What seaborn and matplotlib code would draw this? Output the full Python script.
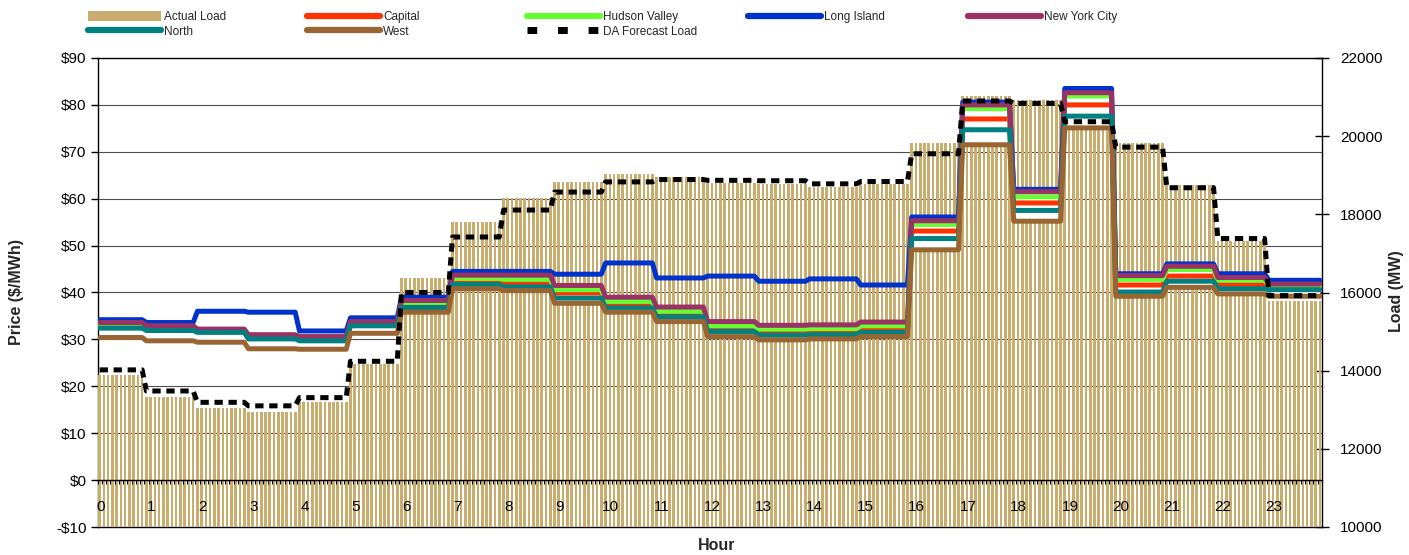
import numpy as np
import pandas as pd
import matplotlib
matplotlib.use("Agg")
import matplotlib.pyplot as plt
from matplotlib.lines import Line2D
from matplotlib.patches import Patch
from matplotlib.transforms import ScaledTranslation
import seaborn as sns

# ---------------------------------------------------------------- data
hours = list(range(24))
hour_labels = [str(h) for h in hours]

# hourly load (MW)
actual_load = [13890, 13320, 13040, 12940, 13190, 14170, 16370, 17810,
               18420, 18830, 19030, 18950, 18800, 18780, 18700, 18780,
               19830, 21030, 20920, 20250, 19830, 18750, 17330, 15790]
da_forecast_load = [14020, 13480, 13190, 13100, 13310, 14240, 16000, 17420,
                    18110, 18570, 18830, 18890, 18870, 18860, 18780, 18840,
                    19550, 20900, 20840, 20370, 19720, 18680, 17380, 15920]

# hourly zonal prices ($/MWh)
capital = [32.6, 32.1, 31.7, 30.3, 29.9, 33.1, 37.0, 42.5, 42.0, 39.9, 37.5, 35.5,
           32.4, 31.5, 31.7, 32.2, 53.1, 77.0, 59.1, 80.0, 41.6, 43.5, 41.7, 41.2]
hudson_valley = [33.4, 32.8, 32.1, 30.9, 30.5, 33.7, 37.9, 43.0, 42.8, 40.6, 38.1, 36.0,
                 32.9, 32.2, 32.3, 32.9, 54.5, 79.2, 60.4, 81.9, 42.8, 44.9, 42.6, 41.5]
long_island = [34.2, 33.6, 36.0, 35.8, 31.8, 34.6, 39.0, 44.5, 44.5, 43.9, 46.3, 43.1,
               43.5, 42.4, 42.9, 41.6, 56.1, 80.6, 62.0, 83.5, 44.0, 46.1, 44.0, 42.6]
new_york_city = [33.6, 32.9, 32.2, 31.0, 30.6, 33.8, 38.3, 43.7, 43.7, 41.5, 39.0, 36.9,
                 33.8, 33.0, 33.1, 33.7, 55.3, 80.0, 61.5, 82.6, 43.6, 45.6, 43.2, 41.8]
north = [32.4, 31.9, 31.5, 30.1, 29.7, 32.9, 36.8, 41.7, 41.2, 38.8, 36.7, 34.8,
         31.7, 30.9, 31.0, 31.5, 51.5, 74.7, 57.5, 77.6, 40.1, 42.4, 40.8, 40.6]
west = [30.4, 29.7, 29.4, 28.0, 27.9, 31.3, 35.8, 40.8, 40.4, 37.7, 35.8, 33.8,
        30.6, 29.9, 30.1, 30.6, 49.1, 71.5, 55.2, 75.1, 39.2, 41.1, 39.7, 39.2]

zones = ["Capital", "Hudson Valley", "Long Island", "New York City", "North", "West"]
zone_prices = [capital, hudson_valley, long_island, new_york_city, north, west]
zone_colors = ["#FF3300", "#66FF33", "#0033CC", "#993366", "#008080", "#996633"]
load_color = "#C9AD6F"

# ------------------------------------------------- 5-minute intervals
# interval i ends at (i+1)*5 minutes; it carries the value of that hour
n_int = 288
t = (np.arange(n_int) + 0.5) / 12.0
hour_idx = np.minimum((np.arange(n_int) + 1) // 12, 23)

load_int = np.asarray(actual_load)[hour_idx]
da_int = np.asarray(da_forecast_load)[hour_idx]
price_df = pd.concat(
    [pd.DataFrame({"hour": t, "price": np.asarray(p)[hour_idx], "zone": z})
     for z, p in zip(zones, zone_prices)],
    ignore_index=True,
)

# ---------------------------------------------------------------- style
sns.set_theme(style="white")
plt.rcParams["font.family"] = ["Liberation Sans", "DejaVu Sans"]

W, H = 1409, 555
fig = plt.figure(figsize=(W / 100, H / 100), dpi=100)
rect = [97.5 / W, 1 - 527 / H, 1224.5 / W, 469 / H]

ax_bg = fig.add_axes(rect)      # price frame + grid
ax_load = fig.add_axes(rect)    # load bars, right scale
ax_lines = fig.add_axes(rect)   # zonal prices, hour axis at $0
ax_da = fig.add_axes(rect)      # DA forecast load
for a in (ax_load, ax_lines, ax_da):
    a.patch.set_visible(False)
for a in (ax_bg, ax_load, ax_lines, ax_da):
    a.set_xlim(0, 24)

# background: price scale, grid, frame
ax_bg.set_ylim(-10, 90)
price_ticks = list(range(-10, 91, 10))
ax_bg.set_yticks(price_ticks)
ax_bg.set_yticklabels([f"-${abs(v)}" if v < 0 else f"${v}" for v in price_ticks])
ax_bg.set_xticks([])
ax_bg.grid(axis="y", color="#4d4d4d", linewidth=0.8)
ax_bg.grid(axis="x", visible=False)
for s in ax_bg.spines.values():
    s.set_visible(True)
    s.set_color("black")
    s.set_linewidth(1.0)
ax_bg.tick_params(axis="y", direction="out", length=5, width=1, color="black",
                  labelsize=11, pad=3, left=True, labelcolor="black")

# load bars
ax_load.bar(t, load_int, width=0.62 / 12, color=load_color, linewidth=0)
ax_load.set_ylim(10000, 22000)
ax_load.yaxis.tick_right()
ax_load.set_yticks(range(10000, 22001, 2000))
ax_load.set_xticks([])
ax_load.tick_params(axis="y", direction="inout", length=10, width=1, color="black",
                    labelsize=11, pad=8, right=True, labelcolor="black")
for s in ax_load.spines.values():
    s.set_visible(False)
ax_load.grid(False)

# zonal price lines
ax_lines.set_ylim(-10, 90)
nyc_int = np.asarray(new_york_city)[hour_idx]
west_int = np.asarray(west)[hour_idx]
ax_lines.fill_between(t, west_int, nyc_int, color="white", linewidth=0, zorder=1)
sns.lineplot(data=price_df, x="hour", y="price", hue="zone", hue_order=zones,
             palette=zone_colors, linewidth=3.6, estimator=None, errorbar=None,
             legend=False, ax=ax_lines)
for ln in ax_lines.lines:
    ln.set_solid_joinstyle("round")
ax_lines.set_xlabel("")
ax_lines.set_ylabel("")
ax_lines.set_yticks([])
for name, s in ax_lines.spines.items():
    s.set_visible(name == "bottom")
ax_lines.spines["bottom"].set_position(("data", 0))
ax_lines.spines["bottom"].set_color("black")
ax_lines.spines["bottom"].set_linewidth(1.0)
ax_lines.set_xticks(hours)
ax_lines.set_xticklabels(hour_labels)
ax_lines.set_xticks(np.arange(0, 24.001, 1 / 12), minor=True)
ax_lines.tick_params(axis="x", which="both", direction="out", length=3, width=0.8,
                     color="black", bottom=True, labelsize=11, pad=11,
                     labelcolor="black")
shift = ScaledTranslation(3 / 100, 0, fig.dpi_scale_trans)
for lab in ax_lines.get_xticklabels():
    lab.set_transform(lab.get_transform() + shift)
ax_lines.grid(False)

# day-ahead forecast load
sns.lineplot(x=t, y=da_int, color="black", linewidth=3.6, estimator=None,
             errorbar=None, ax=ax_da)
ax_da.lines[0].set_dashes((1.66, 1.14))
ax_da.set_ylim(10000, 22000)
ax_da.set_xticks([])
ax_da.set_yticks([])
ax_da.set_xlabel("")
ax_da.set_ylabel("")
for s in ax_da.spines.values():
    s.set_visible(False)
ax_da.grid(False)

# axis titles
fig.text(17 / W, 1 - 292.5 / H, "Price ($/MWh)", rotation=90, ha="center",
         va="center", fontsize=11.5, fontweight="bold")
fig.text(1396 / W, 1 - 291 / H, "Load (MW)", rotation=90, ha="center",
         va="center", fontsize=11.5, fontweight="bold")
fig.text(717 / W, 1 - 546 / H, "Hour", ha="center", va="center",
         fontsize=11.5, fontweight="bold")

# legend, laid out in fixed columns
def line_handle(c):
    return Line2D([0], [0], color=c, linewidth=4.5, solid_capstyle="round")

columns = [
    (88, [(Patch(facecolor=load_color, edgecolor="none"), "Actual Load"),
          (line_handle(zone_colors[4]), "North")]),
    (307, [(line_handle(zone_colors[0]), "Capital"),
           (line_handle(zone_colors[5]), "West")]),
    (527, [(line_handle(zone_colors[1]), "Hudson Valley"),
           (Line2D([0], [0], color="black", linewidth=5, linestyle=(0, (1.4, 3.0))),
            "DA Forecast Load")]),
    (748, [(line_handle(zone_colors[2]), "Long Island")]),
    (968, [(line_handle(zone_colors[3]), "New York City")]),
]
for x0, entries in columns:
    leg = fig.legend([e[0] for e in entries], [e[1] for e in entries],
                     loc="upper left", bbox_to_anchor=(x0 / W, 1 - 11 / H),
                     frameon=False, fontsize=8.5, handlelength=6.2,
                     handleheight=0.85, handletextpad=0.25, labelspacing=0.23,
                     borderpad=0, borderaxespad=0)

fig.savefig("out.png", dpi=100)
